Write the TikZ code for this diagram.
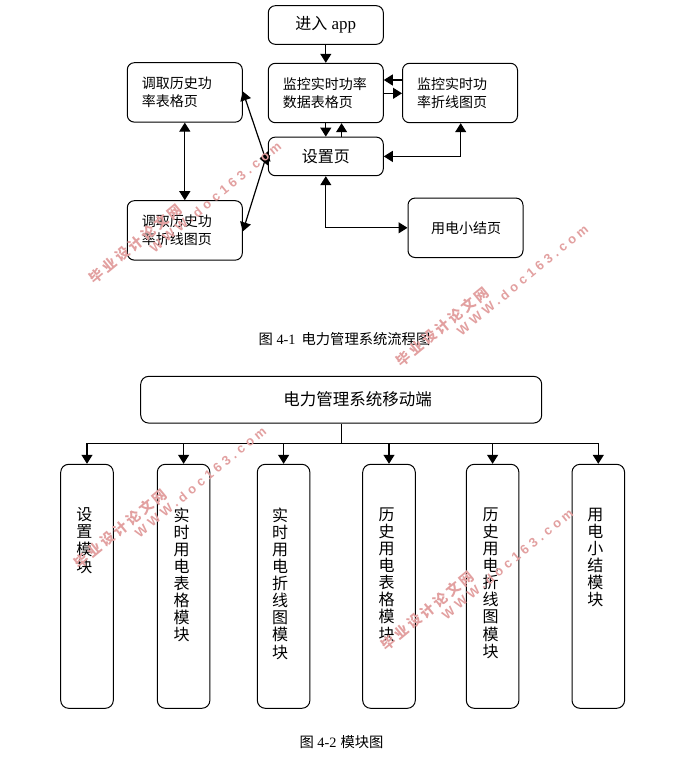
\documentclass[tikz,border=0pt]{standalone}
\usepackage{fontspec}
\setmainfont{Liberation Serif}
\newfontfamily\cjk{Noto Sans CJK SC}
\newfontfamily\wmcjk[LetterSpace=20]{Noto Sans CJK SC}
\newfontfamily\wmlat[LetterSpace=30]{Liberation Sans}
\usetikzlibrary{arrows.meta,positioning,calc}
\definecolor{wm}{HTML}{E2A0A0}
\tikzset{
  page/.style={draw=black,line width=1pt,rounded corners=7pt,minimum width=#1,minimum height=59.4pt,text width=#1-29pt,inner xsep=14.5pt,inner ysep=0pt,align=left,font=\cjk\fontsize{14}{18.4}\selectfont},
  flat/.style={draw=black,line width=1pt,rounded corners=7pt,minimum width=115pt,minimum height=38.6pt,inner sep=0pt},
  mod/.style={draw=black,line width=1pt,rounded corners=8pt,minimum width=52.6pt,minimum height=244pt,inner sep=0pt},
  vtext/.style={anchor=north,align=center,inner sep=0pt,font=\cjk\fontsize{16}{17.1}\selectfont},
  captext/.style={inner sep=0pt,font=\fontsize{14.3}{16}\selectfont},
  link/.style={line width=1.2pt,-{Triangle[length=9pt,width=11pt]}},
  both/.style={line width=1.2pt,{Triangle[length=9pt,width=11pt]}-{Triangle[length=9pt,width=11pt]}},
  plain/.style={line width=1.2pt},
  wmtext/.style={text=wm,inner sep=0pt,rotate=39.5}
}
\begin{document}
\begin{tikzpicture}[x=1pt,y=-1pt]
\useasboundingbox (0,0) rectangle (676,777);
% flow chart
\node[flat,font=\fontsize{17}{18}\selectfont] (enter) at (325.8,25) {{\cjk\fontsize{16}{18}\selectfont 进入} app};
\node[page=115pt] (mon) at (325.8,93) {监控实时功率\\数据表格页};
\node[page=115pt] (line) at (460,93) {监控实时功\\率折线图页};
\node[page=115pt] (his) at (184.8,92.4) {调取历史功\\率表格页};
\node[page=115pt] (hisl) at (184.8,230.4) {调取历史功\\率折线图页};
\node[flat,font=\cjk\fontsize{16}{18}\selectfont] (set) at (325.8,156.4) {设置页};
\node[page=115pt,font=\cjk\fontsize{14}{18.4}\selectfont] (sum) at (465.5,227.8) {\hspace*{8.5pt}用电小结页};
\coordinate (c1) at (460.7,156.4);
\coordinate (c2) at (325.8,227.8);
\draw[link] (enter) -- (mon);
\draw[link] (mon.south) -- (set.north);
\draw[link] ([xshift=15.8pt]set.north) -- ([xshift=15.8pt]mon.south);
\draw[link] (line.west|-0,80) -- (mon.east|-0,80);
\draw[link] (mon.east|-0,93.3) -- (line.west|-0,93.3);
\draw[both] (set.east) -- (c1) -- (c1|-line.south);
\draw[both] (set.south) -- (c2) -- (sum.west);
\draw[both] (his.south) -- (hisl.north);
\draw[both] ([yshift=1pt]his.east) -- ([yshift=-9pt]set.west);
\draw[both] ([yshift=-1pt]hisl.east) -- ([yshift=5pt]set.west);
\node[captext] (cap1) at (344.5,339) {{\cjk 图} 4-1\hspace{6pt}{\cjk 电力管理系统流程图}};
% module chart
\node[draw=black,line width=1pt,rounded corners=8pt,minimum width=401pt,minimum height=46.7pt,inner sep=0pt,font=\cjk\fontsize{16.5}{18}\selectfont,text width=369pt,align=center] (root) at (341.2,399.7) {\hspace*{33pt}电力管理系统移动端};
\node[mod] (m1) at (87,586.3) {};
\node[mod] (m2) at (183.6,586.3) {};
\node[mod] (m3) at (283.6,586.3) {};
\node[mod] (m4) at (389,586.3) {};
\node[mod] (m5) at (492.6,586.3) {};
\node[mod] (m6) at (598.3,586.3) {};
\node[vtext] (t1) at (84.3,507.5) {设\\置\\模\\块};
\node[vtext] (t2) at (181.7,507.5) {实\\时\\用\\电\\表\\格\\模\\块};
\node[vtext] (t3) at (280,507.5) {实\\时\\用\\电\\折\\线\\图\\模\\块};
\node[vtext] (t4) at (386.7,507.5) {历\\史\\用\\电\\表\\格\\模\\块};
\node[vtext] (t5) at (490.7,507.5) {历\\史\\用\\电\\折\\线\\图\\模\\块};
\node[vtext] (t6) at (595.3,507.5) {用\\电\\小\\结\\模\\块};
\coordinate (bus) at (341.7,443.7);
\draw[plain] (root.south-|bus) -- (bus);
\draw[link] (bus) -| (m1.north);
\draw[link] (bus) -| (m2.north);
\draw[link] (bus) -| (m3.north);
\draw[link] (bus) -| (m4.north);
\draw[link] (bus) -| (m5.north);
\draw[link] (bus) -| (m6.north);
\node[captext] (cap2) at (341.5,742) {{\cjk 图} 4-2\hspace{4pt}{\cjk 模块图}};
% watermarks
\foreach \n/\dx/\dy in {a/0/0,b/307/83,c/-15/285,d/292/367}{
  \node[wmtext,font=\wmcjk\bfseries\fontsize{14}{15}\selectfont] (wc\n) at (135.5+\dx,243.5+\dy) {毕业设计论文网};
  \node[wmtext,font=\wmlat\bfseries\fontsize{13}{15}\selectfont] (wl\n) at (215.5+\dx,197+\dy) {WWW.doc163.com};
}
\end{tikzpicture}
\end{document}
